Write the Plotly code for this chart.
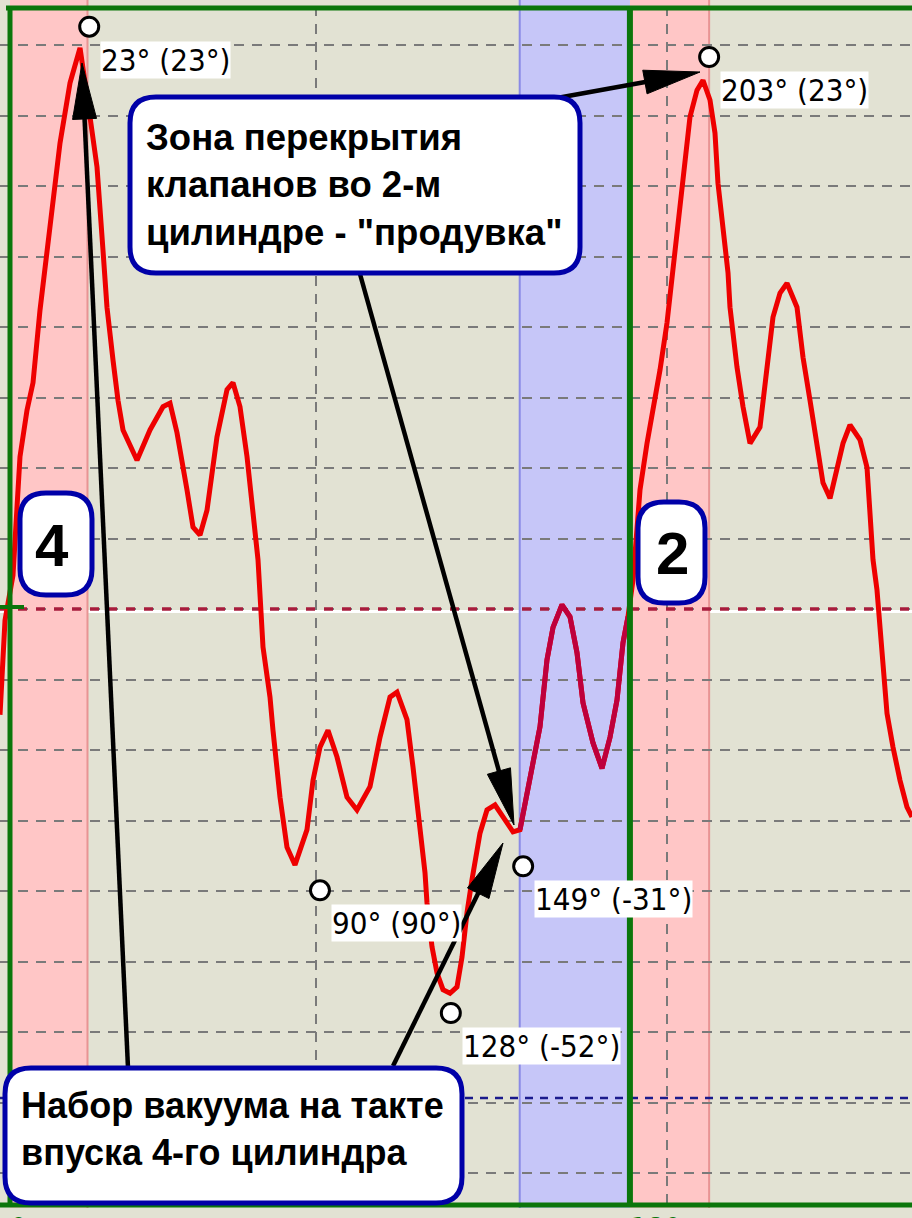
import math
import numpy as np
import plotly.graph_objects as go

# ---------------- data ----------------
crank_deg = [-2.90, -1.45, 0.87, 2.90, 4.94, 6.68, 8.71, 11.61, 14.52, 17.42,
             20.33, 23.23, 25.26, 27.00, 28.16, 29.91, 31.36, 32.81, 36.88, 40.65,
             44.43, 46.46, 48.49, 51.39, 53.14, 55.17, 57.20, 60.10, 63.01, 64.75,
             66.78, 68.82, 70.56, 72.01, 73.46, 75.49, 76.36, 78.40, 80.43, 82.75,
             86.24, 87.98, 90.01, 92.33, 94.95, 97.85, 100.75, 104.53, 107.43, 110.34,
             112.37, 115.27, 117.01, 119.05, 120.50, 121.08, 122.53, 123.98, 125.73, 127.76,
             129.79, 131.24, 132.69, 134.15, 136.47, 138.50, 140.83, 143.15, 146.05, 148.08,
             150.12, 151.86, 153.89, 155.92, 157.67, 160.28, 162.60, 164.63, 166.38, 169.28,
             171.89, 174.22, 176.25, 177.99, 179.44, 180.89, 182.93, 184.96, 186.70, 188.73,
             190.77, 192.51, 193.67, 195.41, 197.44, 199.48, 201.22, 203.25, 204.70, 205.57,
             207.03, 208.48, 209.06, 211.09, 212.83, 214.87, 217.77, 219.80, 221.54, 223.58,
             225.61, 228.51, 230.26, 232.29, 234.32, 236.06, 238.10, 240.13, 241.87, 243.90,
             246.81, 248.84, 249.71, 250.58, 251.74, 252.61, 253.48, 254.65, 256.39, 258.42,
             260.45, 261.90]
pressure = [-1.50, -0.16, 0.48, 2.16, 2.82, 3.21, 4.24, 5.38, 6.61, 7.46,
            7.96, 6.98, 6.27, 5.09, 4.28, 3.53, 2.96, 2.54, 2.11, 2.54,
            2.87, 2.92, 2.50, 1.69, 1.16, 1.05, 1.40, 2.44, 3.11, 3.21,
            2.87, 2.16, 1.40, 0.70, -0.54, -1.25, -1.72, -2.67, -3.38, -3.63,
            -3.13, -2.43, -1.96, -1.72, -2.10, -2.67, -2.85, -2.52, -1.82, -1.25,
            -1.18, -1.57, -2.24, -3.13, -3.74, -4.17, -4.79, -5.16, -5.40, -5.45,
            -5.36, -4.94, -4.31, -3.84, -3.18, -2.85, -2.78, -2.95, -3.16, -3.13,
            -2.61, -2.24, -1.67, -0.72, -0.26, 0.06, -0.11, -0.62, -1.33, -1.90,
            -2.26, -1.82, -1.29, -0.48, -0.11, 0.41, 1.69, 2.35, 2.82, 3.39,
            4.06, 4.81, 5.33, 6.18, 6.98, 7.36, 7.50, 7.22, 6.75, 6.04,
            5.33, 4.77, 4.28, 3.43, 2.87, 2.35, 2.58, 3.43, 4.14, 4.48,
            4.62, 4.28, 3.57, 2.96, 2.35, 1.79, 1.57, 2.01, 2.35, 2.61,
            2.40, 2.01, 1.30, 0.70, 0.27, -0.30, -0.77, -1.48, -1.96, -2.43,
            -2.81, -2.95]

marker_deg = [23, 90, 128, 149, 203]
marker_val = [8.26, -3.99, -5.73, -3.65, 7.83]
marker_labels = ["23° (23°)", "90° (90°)", "128° (-52°)", "149° (-31°)", "203° (23°)"]

tick_vals = [0, 180]
tick_text = ["0", "180"]

zone_pink = [(0, 22.5), (180, 203)]
zone_blue = [(148, 180)]

# ---------------- geometry helpers (pixel -> axis units) ----------------
W, H = 912, 1218
BOTTOM_MARGIN = 10
PX0, PXS = 10.0, 3.444
PY0, PYS = 609.0, 70.5


def X(px):
    return (px - PX0) / PXS


def Y(py):
    return (PY0 - py) / PYS


def P(px, py):
    return f"{X(px):.4f},{Y(py):.4f}"


BG = "#E2E2D3"
GREEN = "#0B760B"
NAVY = "#0000A8"
NARROW = "DejaVu Sans Condensed, Liberation Sans Narrow, DejaVu Sans, sans-serif"
BOLD = "Liberation Sans, Arial, sans-serif"

shapes = []

# white line beneath zero line
shapes.append(dict(type="line", xref="x", yref="y", x0=X(0), x1=X(912), y0=Y(611.5), y1=Y(611.5),
                   line=dict(color="white", width=3), layer="below"))
# zones
for a, b in zone_pink:
    shapes.append(dict(type="rect", xref="x", yref="y", x0=a, x1=b, y0=Y(1210), y1=Y(0),
                       fillcolor="#FFC6C6", line=dict(width=0), layer="below"))
    shapes.append(dict(type="line", xref="x", yref="y", x0=b, x1=b, y0=Y(1210), y1=Y(0),
                       line=dict(color="#E89494", width=2), layer="below"))
for a, b in zone_blue:
    shapes.append(dict(type="rect", xref="x", yref="y", x0=a, x1=b, y0=Y(1210), y1=Y(0),
                       fillcolor="#C6C6F8", line=dict(width=0), layer="below"))
    shapes.append(dict(type="line", xref="x", yref="y", x0=a, x1=a, y0=Y(1210), y1=Y(0),
                       line=dict(color="#8A8AE6", width=2), layer="below"))
# vertical dashed grid
for vx in (X(316), X(667)):
    shapes.append(dict(type="line", xref="x", yref="y", x0=vx, x1=vx, y0=Y(1204), y1=Y(8),
                       line=dict(color="#7A7A7A", width=2, dash="10px,8px"), layer="below"))
# zero line (red dashed) and blue dashed level
shapes.append(dict(type="line", xref="x", yref="y", x0=X(0), x1=X(912), y0=0, y1=0,
                   line=dict(color="#A81C3C", width=3.5, dash="9px,9px"), layer="between"))
shapes.append(dict(type="line", xref="x", yref="y", x0=X(0), x1=X(912), y0=Y(1098), y1=Y(1098),
                   line=dict(color="#1A1A8C", width=2.5, dash="8px,7px"), layer="between"))

# green frame
shapes += [
    dict(type="line", xref="x", yref="y", x0=0, x1=0, y0=Y(1206), y1=Y(6),
         line=dict(color=GREEN, width=5), layer="above"),
    dict(type="line", xref="x", yref="y", x0=X(6), x1=X(912), y0=Y(8), y1=Y(8),
         line=dict(color=GREEN, width=5), layer="above"),
    dict(type="line", xref="x", yref="y", x0=X(0), x1=X(912), y0=Y(1205), y1=Y(1205),
         line=dict(color=GREEN, width=5), layer="above"),
    dict(type="line", xref="x", yref="y", x0=180, x1=180, y0=Y(1206), y1=Y(6),
         line=dict(color=GREEN, width=6), layer="above"),
    dict(type="line", xref="x", yref="y", x0=X(0), x1=X(24), y0=Y(607), y1=Y(607),
         line=dict(color=GREEN, width=4), layer="above"),
]


def rrect(x0, y0, x1, y1, r):
    return (f"M{P(x0 + r, y0)} L{P(x1 - r, y0)} Q{P(x1, y0)} {P(x1, y0 + r)} "
            f"L{P(x1, y1 - r)} Q{P(x1, y1)} {P(x1 - r, y1)} L{P(x0 + r, y1)} "
            f"Q{P(x0, y1)} {P(x0, y1 - r)} L{P(x0, y0 + r)} Q{P(x0, y0)} {P(x0 + r, y0)} Z")


def box(x0, y0, x1, y1, r):
    shapes.append(dict(type="path", xref="x", yref="y", path=rrect(x0, y0, x1, y1, r),
                       fillcolor="white", line=dict(color=NAVY, width=5), layer="above"))


def arrow(tx, ty, hx, hy, L=56, hw=12):
    dx, dy = hx - tx, hy - ty
    d = math.hypot(dx, dy)
    ux, uy = dx / d, dy / d
    bx, by = hx - ux * L, hy - uy * L
    nx, ny = -uy, ux
    shapes.append(dict(type="line", xref="x", yref="y", x0=X(tx), y0=Y(ty),
                       x1=X(bx + ux * 6), y1=Y(by + uy * 6),
                       line=dict(color="black", width=4.5), layer="above"))
    shapes.append(dict(type="path", xref="x", yref="y",
                       path=f"M{P(hx, hy)} L{P(bx + nx * hw, by + ny * hw)} L{P(bx - nx * hw, by - ny * hw)} Z",
                       fillcolor="black", line=dict(color="black", width=1), layer="above"))


arrow(128, 1068, 82, 63)
arrow(393, 1066, 503, 843)
arrow(360, 274, 514, 825)
arrow(557, 98, 700, 72)

box(130, 97, 580, 273, 26)
box(5, 1068, 462, 1203, 26)
box(20, 493, 92, 595, 26)
box(638, 502, 705, 603, 26)

# ---------------- traces ----------------
fig = go.Figure()
fig.add_trace(go.Scatter(x=crank_deg, y=pressure, mode="lines",
                         line=dict(color="#EE0000", width=5), hoverinfo="skip"))
xa = np.array(crank_deg)
pa = np.array(pressure, dtype=float)
lo, hi = zone_blue[0]
blue_part = np.where((xa >= lo) & (xa <= hi), pa, np.nan)
fig.add_trace(go.Scatter(x=crank_deg, y=blue_part, mode="lines",
                         line=dict(color="#BE003C", width=5), hoverinfo="skip",
                         connectgaps=False))
fig.add_trace(go.Scatter(x=marker_deg, y=marker_val, mode="markers",
                         marker=dict(size=19, color="white", line=dict(color="black", width=3)),
                         hoverinfo="skip"))

annotations = []
for mx, my, lab in zip(marker_deg, marker_val, marker_labels):
    annotations.append(dict(x=mx, y=my, xref="x", yref="y", text=lab, showarrow=False,
                            xanchor="left", yanchor="top", xshift=11, yshift=-14,
                            bgcolor="white", borderpad=0,
                            font=dict(family=NARROW, size=31, color="black")))

annotations.append(dict(x=X(144), y=Y(185), xref="x", yref="y",
                        text="Зона перекрытия<br>клапанов во 2-м<br>цилиндре - \"продувка\"",
                        showarrow=False, xanchor="left", yanchor="middle", align="left",
                        font=dict(family=BOLD, size=36.5, color="black", weight="bold")))
annotations.append(dict(x=X(19), y=Y(1129), xref="x", yref="y",
                        text="Набор вакуума на такте<br>впуска 4-го цилиндра",
                        showarrow=False, xanchor="left", yanchor="middle", align="left",
                        font=dict(family=BOLD, size=36, color="black", weight="bold")))
annotations.append(dict(x=X(52), y=Y(545), xref="x", yref="y", text="4", showarrow=False,
                        xanchor="center", yanchor="middle",
                        font=dict(family=BOLD, size=60, color="black", weight="bold")))
annotations.append(dict(x=X(672), y=Y(553), xref="x", yref="y", text="2", showarrow=False,
                        xanchor="center", yanchor="middle",
                        font=dict(family=BOLD, size=60, color="black", weight="bold")))

fig.update_layout(
    width=W, height=H,
    margin=dict(l=0, r=0, t=0, b=BOTTOM_MARGIN, pad=0),
    paper_bgcolor=BG, plot_bgcolor=BG, showlegend=False,
    shapes=shapes, annotations=annotations,
    xaxis=dict(range=[X(0), X(912)], tickmode="array", tickvals=tick_vals,
               ticktext=["\u2007" * len(t) + t for t in tick_text],
               showgrid=False, zeroline=False, showline=False, ticks="",
               ticklabeloverflow="allow",
               tickfont=dict(family=NARROW, size=30, color=GREEN),
               automargin=False, fixedrange=True),
    yaxis=dict(range=[Y(H - BOTTOM_MARGIN), Y(0)], tickmode="linear", tick0=0, dtick=1,
               showgrid=True, gridcolor="#7A7A7A", gridwidth=2, griddash="10px,8px",
               zeroline=False, showline=False, showticklabels=False, ticks="",
               automargin=False, fixedrange=True),
)

fig.write_html("out.html", config={"displayModeBar": False, "staticPlot": True},
               post_script="document.body.style.margin='0';document.body.style.overflow='hidden';")
